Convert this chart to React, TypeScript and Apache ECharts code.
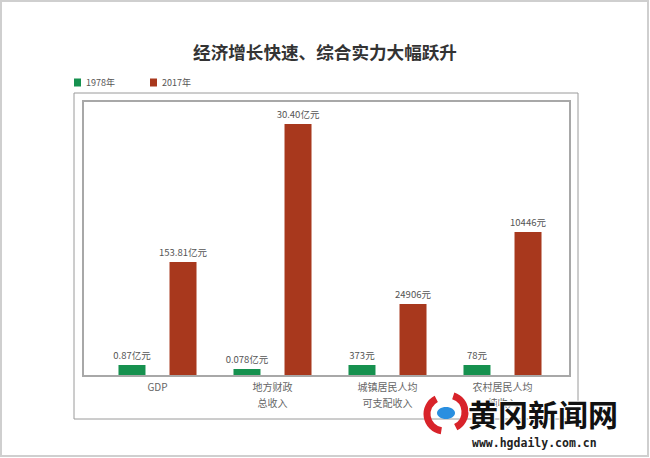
import React, { useEffect, useRef } from "react";
import * as echarts from "echarts";

const categories = ["GDP", "地方财政\n总收入", "城镇居民人均\n可支配收入", "农村居民人均\n纯收入"];
const seriesNames = ["1978年", "2017年"];
// bar heights as drawn in the picture (each category has its own unit, so the chart is not to one scale)
const heights1978 = [11, 7, 11, 11];
const heights2017 = [114, 252, 72, 144];
const labels1978 = ["0.87亿元", "0.078亿元", "373元", "78元"];
const labels2017 = ["153.81亿元", "30.40亿元", "24906元", "10446元"];

const GREEN = "#16914f";
const RED = "#a8381d";

export default function App() {
  const ref = useRef<HTMLDivElement>(null);
  useEffect(() => {
    document.body.style.margin = "0";
    const chart = echarts.init(ref.current!, null, { renderer: "svg" });
    const font = "'Noto Sans CJK SC', 'DejaVu Sans', sans-serif";
    const mkSeries = (name: string, vals: number[], labs: string[], color: string) => ({
      name,
      type: "bar",
      barWidth: 27,
      barGap: "89%",
      barCategoryGap: "32%",
      data: vals.map((v, i) => ({ value: v, label: { formatter: labs[i] } })),
      itemStyle: { color },
      label: {
        show: true,
        position: "top",
        distance: 5,
        fontSize: 9.5,
        color: "#555",
        fontFamily: font,
      },
    });
    chart.setOption({
      animation: false,
      backgroundColor: "#ffffff",
      title: {
        text: "经济增长快速、综合实力大幅跃升",
        left: "center",
        top: 38,
        textStyle: { fontSize: 17.6, fontWeight: "bold", color: "#333", fontFamily: font },
      },
      legend: {
        data: seriesNames,
        left: 74,
        top: 78,
        padding: 0,
        itemWidth: 7,
        itemHeight: 8,
        itemGap: 35,
        icon: "rect",
        textStyle: { fontSize: 9, color: "#555", fontFamily: font },
      },
      grid: { left: 100, right: 650 - 560, top: 101, bottom: 458 - 376 },
      xAxis: {
        type: "category",
        data: categories,
        axisLine: { show: false },
        axisTick: { show: false },
        axisLabel: { margin: 2, fontSize: 10, lineHeight: 16, color: "#666", fontFamily: font },
      },
      yAxis: { type: "value", min: 0, max: 275, show: false, splitLine: { show: false } },
      series: [
        mkSeries(seriesNames[0], heights1978, labels1978, GREEN),
        mkSeries(seriesNames[1], heights2017, labels2017, RED),
      ],
      graphic: [
        { type: "rect", shape: { x: 1, y: 1, width: 647, height: 455 }, style: { fill: "none", stroke: "#cfcfcf", lineWidth: 2 }, silent: true },
        { type: "rect", shape: { x: 74, y: 93, width: 504, height: 326 }, style: { fill: "none", stroke: "#9a9a9a", lineWidth: 1 }, silent: true },
        { type: "rect", shape: { x: 83, y: 101, width: 487, height: 275 }, style: { fill: "none", stroke: "#a8a8a8", lineWidth: 2 }, silent: true, z: 10 },
        // watermark
        { type: "arc", shape: { cx: 444, cy: 414, r: 17, startAngle: Math.PI * 0.55, endAngle: Math.PI * 1.35 }, style: { stroke: "#d8232a", lineWidth: 7, fill: "none" }, z: 20 },
        { type: "arc", shape: { cx: 448, cy: 412, r: 17, startAngle: Math.PI * 1.6, endAngle: Math.PI * 2.35 }, style: { stroke: "#d8232a", lineWidth: 7, fill: "none" }, z: 20 },
        { type: "ellipse", shape: { cx: 446, cy: 413, rx: 9, ry: 6 }, style: { fill: "#2a8fe0" }, z: 20 },
        { type: "text", x: 468, y: 398, style: { text: "黄冈新闻网", fontSize: 30, fontWeight: "bold", fill: "#111", stroke: "#fff", lineWidth: 2, fontFamily: font }, z: 20 },
        { type: "text", x: 472, y: 437, style: { text: "www.hgdaily.com.cn", fontSize: 11.5, fontWeight: "bold", fill: "#222", fontFamily: "'DejaVu Sans Mono', monospace" }, z: 20 },
      ],
    });
    return () => chart.dispose();
  }, []);
  return <div ref={ref} style={{ position: "fixed", left: 0, top: 0, width: 650, height: 458 }} />;
}
